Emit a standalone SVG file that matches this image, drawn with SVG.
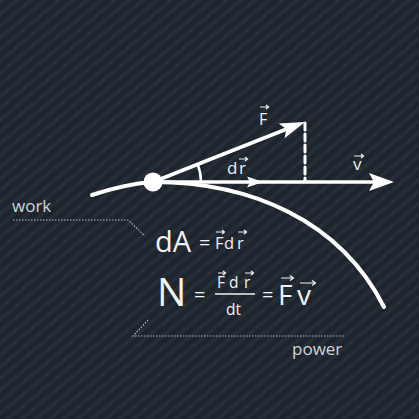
<svg xmlns="http://www.w3.org/2000/svg" width="419" height="419" viewBox="0 0 419 419">
<defs>
<pattern id="stripes" width="9" height="9" patternUnits="userSpaceOnUse" patternTransform="rotate(50)">
<rect width="9" height="9" fill="#1d242d"/>
<rect width="4" height="9" fill="#252d37"/>
</pattern>
<style>
.w{fill:none;stroke:#fff;stroke-linecap:round}
.hd{fill:#fff}
.t{font-family:"Open Sans","Noto Sans","DejaVu Sans",sans-serif;fill:#f2f2f2}
.lbl{font-family:"Open Sans","Noto Sans","DejaVu Sans",sans-serif;fill:#d0d4d8;font-size:17px}
.dot{fill:none;stroke:#b8bcc0;stroke-width:1.2;stroke-dasharray:1.5 1.5}
.va{fill:none;stroke:#f2f2f2;stroke-width:1.2}
</style>
</defs>
<rect width="419" height="419" fill="url(#stripes)"/>

<g id="connectors">
<path id="trajectory" class="w" stroke-width="4" d="M92 195 Q125 184 153 182 C250 182 340 220 384 307"/>
<line id="v-line" class="w" stroke-width="3.5" x1="153" y1="182" x2="378" y2="182"/>
<path class="hd" d="M394 182 L369 173 L374 182 L369 191 Z"/>
<path class="hd" d="M263 182 L247 176.5 L250 182 L247 187.5 Z"/>
<line id="f-line" class="w" stroke-width="3.5" x1="153" y1="182" x2="288" y2="128.5"/>
<path class="hd" d="M305 122 L278.7 123.5 L286.3 129 L284.6 138.3 Z"/>
<line class="w" stroke-width="3" stroke-linecap="butt" stroke-dasharray="7 4" x1="305" y1="123" x2="305" y2="181"/>
<path class="w" stroke-width="2.5" d="M201 182 A48 48 0 0 0 197.6 164.2"/>
<path class="dot" d="M13 220 H128 L145 236"/>
<path class="dot" d="M148 320 L133 336 H345"/>
</g>

<g id="point"><circle cx="153" cy="182" r="9.5" fill="#fff"/></g>

<g id="label-F">
<text class="t" x="259" y="124.5" font-size="16">F</text>
<path class="va" d="M260 107 H268 M266 105 L268.5 107 L266 109"/>
</g>
<g id="label-dr">
<text class="t" x="227" y="174" font-size="17">d</text>
<text class="t" x="239" y="174" font-size="17">r</text>
<path class="va" d="M239 159 H247 M245 157 L247.5 159 L245 161"/>
</g>
<g id="label-v">
<text class="t" x="353" y="170" font-size="17">v</text>
<path class="va" d="M354 156 H363 M361 154 L363.5 156 L361 158"/>
</g>

<g id="work">
<text class="lbl" x="12" y="212">work</text>
</g>

<g id="formula-dA">
<text class="t" x="155" y="252" font-size="29">dA</text>
<text class="t" x="199" y="250" font-size="20">=</text>
<text class="t" x="215" y="249" font-size="16.5">F</text>
<text class="t" x="224" y="249" font-size="16.5">d</text>
<text class="t" x="237" y="249" font-size="16.5">r</text>
<path class="va" d="M216 232 H224 M222 230 L224.5 232 L222 234"/>
<path class="va" d="M238 232 H246 M244 230 L246.5 232 L244 234"/>
</g>

<g id="formula-N">
<text class="t" x="157" y="306" font-size="39">N</text>
<text class="t" x="194" y="302" font-size="20">=</text>
<text class="t" x="217" y="288" font-size="15.5">F</text>
<text class="t" x="229" y="288" font-size="15.5">d</text>
<text class="t" x="244" y="288" font-size="15.5">r</text>
<path class="va" d="M218 273 H225 M223 271 L225.5 273 L223 275"/>
<path class="va" d="M245 273 H253 M251 271 L253.5 273 L251 275"/>
<line x1="215" y1="294" x2="255" y2="294" stroke="#f2f2f2" stroke-width="1.5"/>
<text class="t" x="226" y="315" font-size="15.5">dt</text>
<text class="t" x="262" y="302" font-size="20">=</text>
<text class="t" x="278" y="305" font-size="28">F</text>
<text class="t" x="297" y="305" font-size="28">v</text>
<path class="va" stroke-width="1.6" d="M281 278 H293 M290 275.5 L293.5 278 L290 280.5"/>
<path class="va" stroke-width="1.6" d="M300 283 H315 M312 280.5 L315.5 283 L312 285.5"/>
</g>

<g id="power">
<text class="lbl" x="292" y="355">power</text>
</g>
</svg>
